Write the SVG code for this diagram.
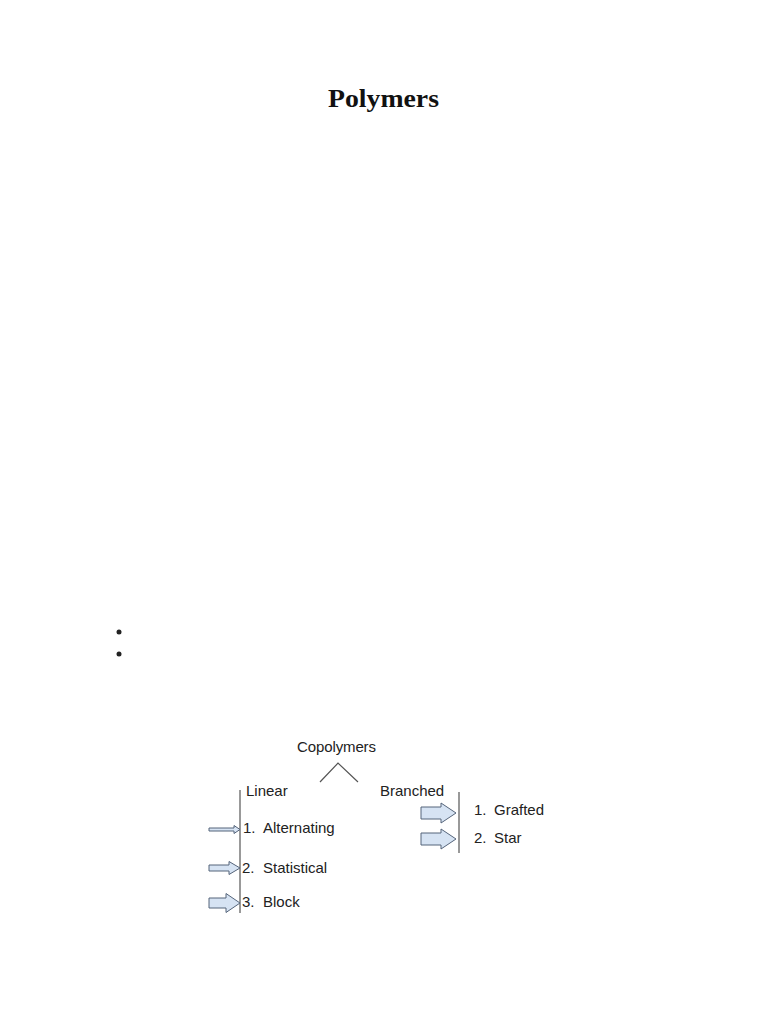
<svg xmlns="http://www.w3.org/2000/svg" width="768" height="1024" viewBox="0 0 768 1024">
<style>
.t{font-family:"Liberation Sans",Arial,sans-serif;font-size:15px;fill:#222}
.ar{fill:#d6e3f3;stroke:#55647a;stroke-width:1}
.ln{stroke:#555;stroke-width:1.2;fill:none}
</style>
<rect width="768" height="1024" fill="#fff"/>
<text x="383.5" y="107" text-anchor="middle" font-family="'Liberation Serif','Times New Roman',serif" font-weight="bold" font-size="26" textLength="111" lengthAdjust="spacingAndGlyphs" fill="#111">Polymers</text>
<circle cx="119" cy="632" r="2.5" fill="#222"/>
<circle cx="119" cy="654" r="2.5" fill="#222"/>
<g id="copolymers"><text class="t" x="297" y="752" textLength="79">Copolymers</text></g>
<g id="linear"><text class="t" x="246" y="796">Linear</text></g>
<g id="branched"><text class="t" x="380" y="796">Branched</text></g>
<g id="alternating"><text class="t" x="243" y="833">1.</text><text class="t" x="263" y="833">Alternating</text></g>
<g id="statistical"><text class="t" x="242" y="873">2.</text><text class="t" x="263" y="873">Statistical</text></g>
<g id="block"><text class="t" x="242" y="907">3.</text><text class="t" x="263" y="907">Block</text></g>
<g id="grafted"><text class="t" x="474" y="815">1.</text><text class="t" x="494" y="815">Grafted</text></g>
<g id="star"><text class="t" x="474" y="843">2.</text><text class="t" x="494" y="843">Star</text></g>
<g id="connectors">
<polyline class="ln" points="320,782 338,763 358,782"/>
<line class="ln" x1="240" y1="790" x2="240" y2="913"/>
<line class="ln" x1="459" y1="792" x2="459" y2="853"/>
<path class="ar" d="M209,828 H234 V825.5 L240,829.5 L234,833.5 V831 H209 Z"/>
<path class="ar" d="M209,865 H229 V861.5 L240,868 L229,874.5 V871 H209 Z"/>
<path class="ar" d="M209,898 H226 V893.5 L240,903 L226,912.5 V908 H209 Z"/>
<path class="ar" d="M421,807 H441 V803 L456,813 L441,823 V819 H421 Z"/>
<path class="ar" d="M421,833 H441 V829 L456,839 L441,849 V845 H421 Z"/>
</g>
</svg>
